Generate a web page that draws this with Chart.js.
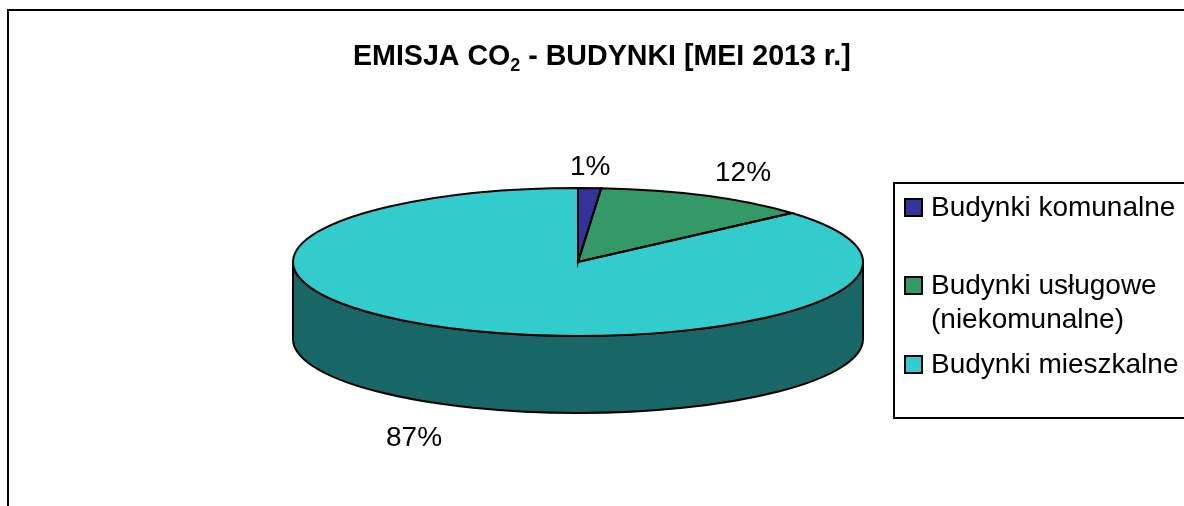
<!DOCTYPE html>
<html><head><meta charset="utf-8">
<style>html,body{margin:0;padding:0;background:#fff;overflow:hidden}canvas{display:block}</style>
<script src="https://cdn.jsdelivr.net/npm/chart.js@4/dist/chart.umd.min.js"></script>
</head><body>
<div style="width:1184px;height:506px;position:relative"><canvas id="c" width="1184" height="506"></canvas></div>
<script>
const categories = ["Budynki komunalne", "Budynki usługowe (niekomunalne)", "Budynki mieszkalne"];
const legendLines = [["Budynki komunalne"], ["Budynki usługowe", "(niekomunalne)"], ["Budynki mieszkalne"]];
const shares = [1.3, 12.2, 86.5];
const shareLabels = ["1%", "12%", "87%"];
const colors = ["#333399", "#339966", "#33CCCC"];
const wallColors = ["#191A4D", "#1A4D33", "#196666"];

const FONT = '"Liberation Sans", Arial, sans-serif';
const RX = 285, RY = 74, CX = 578, CY = 262, DEPTH = 77;
const PEN = 2;

function ellipseFrom(chart){
  const a = chart.getDatasetMeta(0).data[0];
  return {a, s: RX / a.outerRadius, t: RY / a.outerRadius};
}
function withTransform(ctx, e, fn){
  ctx.save();
  ctx.translate(CX, CY);
  ctx.scale(e.s, e.t);
  ctx.translate(-e.a.x, -e.a.y);
  fn();
  ctx.restore();
}

const pie3d = {
  id: 'pie3d',
  beforeDraw(chart){
    const ctx = chart.ctx;
    ctx.save();
    ctx.fillStyle = '#fff';
    ctx.fillRect(0,0,chart.width,chart.height);
    ctx.strokeStyle = '#000'; ctx.lineWidth = 2;
    ctx.beginPath();
    ctx.moveTo(8, chart.height + 5); ctx.lineTo(8, 10); ctx.lineTo(chart.width + 5, 10);
    ctx.stroke();
    ctx.restore();
  },
  beforeDatasetsDraw(chart){
    const ctx = chart.ctx, e = ellipseFrom(chart);
    chart.getDatasetMeta(0).data.forEach((arc, i) => {
      for (const off of [0, 2*Math.PI]) {
        const st = Math.max(arc.startAngle, off), en = Math.min(arc.endAngle, off + Math.PI);
        if (en <= st) continue;
        ctx.save();
        ctx.beginPath();
        withTransform(ctx, e, () => ctx.arc(arc.x, arc.y, arc.outerRadius, st, en));
        ctx.translate(0, DEPTH);
        withTransform(ctx, e, () => ctx.arc(arc.x, arc.y, arc.outerRadius, en, st, true));
        ctx.closePath();
        ctx.setTransform(1,0,0,1,0,0);
        ctx.fillStyle = wallColors[i];
        ctx.fill();
        ctx.strokeStyle = '#000'; ctx.lineWidth = PEN;
        ctx.stroke();
        ctx.restore();
      }
    });
    ctx.save();
    ctx.translate(CX, CY); ctx.scale(e.s, e.t); ctx.translate(-e.a.x, -e.a.y);
  },
  afterDatasetsDraw(chart){
    const ctx = chart.ctx;
    ctx.restore();
    const e = ellipseFrom(chart);
    chart.getDatasetMeta(0).data.forEach(arc => {
      ctx.save();
      ctx.beginPath();
      withTransform(ctx, e, () => {
        ctx.moveTo(arc.x, arc.y);
        ctx.arc(arc.x, arc.y, arc.outerRadius, arc.startAngle, arc.endAngle);
        ctx.closePath();
      });
      ctx.strokeStyle = '#000'; ctx.lineWidth = PEN;
      ctx.stroke();
      ctx.restore();
    });
    drawTexts(chart);
  }
};

function drawTexts(chart){
  const ctx = chart.ctx;
  ctx.save();
  ctx.fillStyle = '#000';
  ctx.textBaseline = 'alphabetic';
  ctx.font = 'bold 28.6px ' + FONT;
  ctx.textAlign = 'left';
  let x = 353;
  ctx.fillText('EMISJA CO', x, 65);
  x += ctx.measureText('EMISJA CO').width;
  ctx.font = 'bold 18px ' + FONT;
  ctx.fillText('2', x, 71);
  x += ctx.measureText('2').width;
  ctx.font = 'bold 28.6px ' + FONT;
  ctx.fillText(' - BUDYNKI [MEI 2013 r.]', x, 65);
  ctx.font = '28px ' + FONT;
  const spots = [[570,175],[715,181],[386,446]];
  shareLabels.forEach((t,i) => ctx.fillText(t, spots[i][0], spots[i][1]));
  ctx.strokeStyle = '#000'; ctx.lineWidth = 2;
  ctx.fillStyle = '#fff';
  ctx.beginPath();
  ctx.moveTo(chart.width + 5, 183); ctx.lineTo(894, 183); ctx.lineTo(894, 418); ctx.lineTo(chart.width + 5, 418);
  ctx.fill(); ctx.stroke();
  const rows = [216, 294, 373];
  legendLines.forEach((lines,i) => {
    ctx.fillStyle = colors[i];
    ctx.fillRect(905, rows[i]-17, 17, 17);
    ctx.strokeRect(905, rows[i]-17, 17, 17);
    ctx.fillStyle = '#000';
    lines.forEach((l,j) => ctx.fillText(l, 931, rows[i] + j*34));
  });
  ctx.restore();
}

new Chart(document.getElementById('c'), {
  type: 'pie',
  data: { labels: categories, datasets: [{ data: shares, backgroundColor: colors, borderWidth: 0 }] },
  options: {
    responsive: false, animation: false, events: [],
    rotation: 0,
    plugins: { legend: {display:false}, title:{display:false}, tooltip:{enabled:false} }
  },
  plugins: [pie3d]
});
</script>
</body></html>
